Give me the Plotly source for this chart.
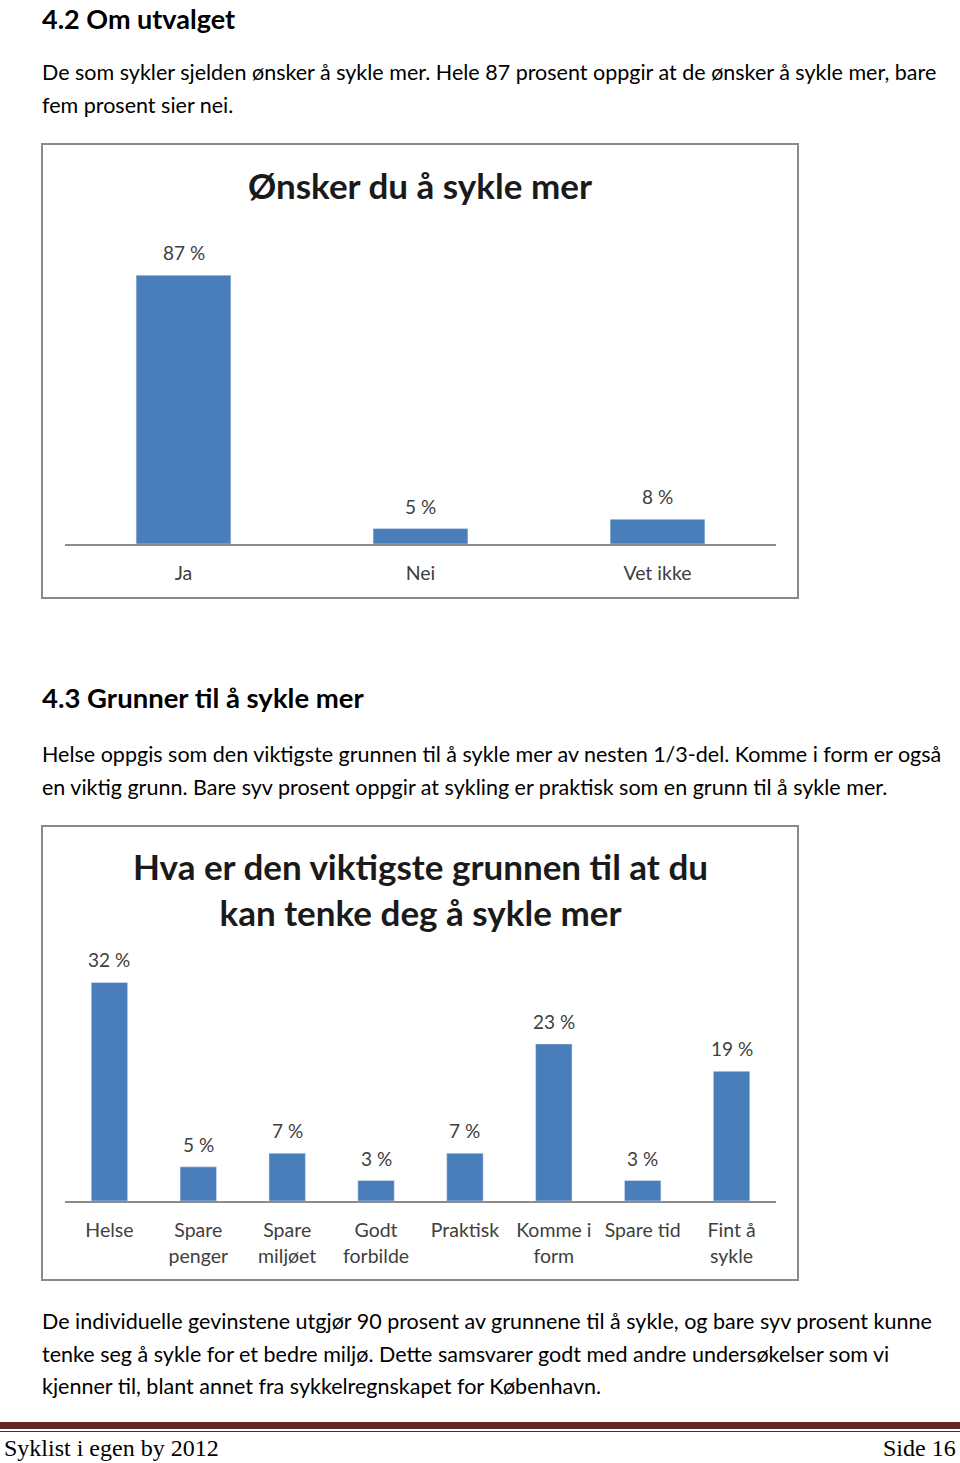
import plotly.graph_objects as go

W, H = 960, 1463

# ---- data ----
cats1 = ["Ja", "Nei", "Vet ikke"]
vals1 = [87, 5, 8]
title1 = "Ønsker du å sykle mer"

cats2 = ["Helse", "Spare penger", "Spare miljøet", "Godt forbilde", "Praktisk",
         "Komme i form", "Spare tid", "Fint å sykle"]
ticks2 = ["Helse", "Spare<br>penger", "Spare<br>miljøet", "Godt<br>forbilde", "Praktisk",
          "Komme i<br>form", "Spare tid", "Fint å<br>sykle"]
vals2 = [32, 5, 7, 3, 7, 23, 3, 19]
title2 = "Hva er den viktigste grunnen til at du<br>kan tenke deg å sykle mer"

BODY_FONT = "Lato"
BAR = "#4a7ebb"
LABEL = "#404040"


def py(p):
    return 1 - p / H


def px(p):
    return p / W


fig = go.Figure()
fig.add_trace(go.Bar(x=cats1, y=vals1, marker_color=BAR, width=0.4,
                     xaxis="x", yaxis="y", hoverinfo="skip"))
fig.add_trace(go.Bar(x=cats2, y=vals2, marker_color=BAR, width=0.41,
                     xaxis="x2", yaxis="y2", hoverinfo="skip"))

annos = []
for c, v in zip(cats1, vals1):
    annos.append(dict(x=c, y=v, xref="x", yref="y", text=f"{v} %", showarrow=False,
                      yanchor="bottom", yshift=9, font=dict(family=BODY_FONT, size=19, color=LABEL)))
for c, v in zip(cats2, vals2):
    annos.append(dict(x=c, y=v, xref="x2", yref="y2", text=f"{v} %", showarrow=False,
                      yanchor="bottom", yshift=9, font=dict(family=BODY_FONT, size=19, color=LABEL)))

# chart titles
annos.append(dict(x=px(420), y=py(185), xref="paper", yref="paper", text=title1,
                  showarrow=False, xanchor="center", yanchor="middle",
                  font=dict(family=BODY_FONT, size=35, color="#1a1a1a", weight="bold")))
annos.append(dict(x=px(420), y=py(889), xref="paper", yref="paper", text=title2,
                  showarrow=False, xanchor="center", yanchor="middle",
                  font=dict(family=BODY_FONT, size=35, color="#1a1a1a", weight="bold")))

# page text
texts = [
    ("4.2 Om utvalget", None, 27, True),
    ("De som sykler sjelden ønsker å sykle mer. Hele 87 prosent oppgir at de ønsker å sykle mer, bare", 72, 21.5, False),
    ("fem prosent sier nei.", 105, 21.5, False),
    ("4.3 Grunner til å sykle mer", 697, 27.5, True),
    ("Helse oppgis som den viktigste grunnen til å sykle mer av nesten 1/3-del. Komme i form er også", 754, 21.5, False),
    ("en viktig grunn. Bare syv prosent oppgir at sykling er praktisk som en grunn til å sykle mer.", 787, 21.5, False),
    ("De individuelle gevinstene utgjør 90 prosent av grunnene til å sykle, og bare syv prosent kunne", 1321, 21.5, False),
    ("tenke seg å sykle for et bedre miljø. Dette samsvarer godt med andre undersøkelser som vi", 1354, 21.5, False),
    ("kjenner til, blant annet fra sykkelregnskapet for København.", 1386, 21.5, False),
]
for t, y, s, b in texts:
    if y is None:
        pos = dict(y=1, yanchor="top")
    else:
        pos = dict(y=py(y), yanchor="middle")
    annos.append(dict(x=px(42), xref="paper", yref="paper", text=t, showarrow=False,
                      xanchor="left", xshift=-2, **pos,
                      font=dict(family=BODY_FONT, size=s, color="#000000",
                                weight="bold" if b else "normal")))

# footer
annos.append(dict(x=px(4), y=py(1448), xref="paper", yref="paper", text="Syklist i egen by 2012",
                  showarrow=False, xanchor="left", yanchor="middle", xshift=-2,
                  font=dict(family="Liberation Serif", size=24, color="#000000")))
annos.append(dict(x=px(956), y=py(1448), xref="paper", yref="paper", text="Side 16",
                  showarrow=False, xanchor="right", yanchor="middle", xshift=2,
                  font=dict(family="Liberation Serif", size=24, color="#000000")))

shapes = [
    dict(type="rect", xref="paper", yref="paper", x0=px(42), x1=px(798), y0=py(144), y1=py(598),
         line=dict(color="#8a8a8a", width=2), fillcolor="rgba(0,0,0,0)", layer="below"),
    dict(type="rect", xref="paper", yref="paper", x0=px(42), x1=px(798), y0=py(826), y1=py(1280),
         line=dict(color="#8a8a8a", width=2), fillcolor="rgba(0,0,0,0)", layer="below"),
    dict(type="rect", xref="paper", yref="paper", x0=0, x1=1, y0=py(1429), y1=py(1422),
         line=dict(width=0), fillcolor="#632523"),
    dict(type="line", xref="paper", yref="paper", x0=0, x1=1, y0=py(1431.5), y1=py(1431.5),
         line=dict(color="#632523", width=1.2)),
]

axis_x = dict(showgrid=False, zeroline=False, showline=True, linecolor="#8c8c8c", linewidth=1.5,
              ticks="", tickfont=dict(family=BODY_FONT, size=19.5, color=LABEL), fixedrange=True)
axis_y = dict(showgrid=False, zeroline=False, showline=False, showticklabels=False, fixedrange=True)

fig.update_layout(
    width=W, height=H, margin=dict(l=0, r=0, t=0, b=0),
    paper_bgcolor="white", plot_bgcolor="rgba(0,0,0,0)",
    showlegend=False,
    xaxis=dict(axis_x, domain=[px(65), px(776)], range=[-0.5, 2.5], anchor="y",
               ticklabelstandoff=11),
    yaxis=dict(axis_y, domain=[py(544), py(235)], range=[0, 100], anchor="x"),
    xaxis2=dict(axis_x, domain=[px(65), px(776)], range=[-0.5, 7.5], anchor="y2",
                tickvals=cats2, ticktext=ticks2, ticklabelstandoff=11),
    yaxis2=dict(axis_y, domain=[py(1201), py(962)], range=[0, 35], anchor="x2"),
    annotations=annos, shapes=shapes,
)

fig.write_html("out.html")
